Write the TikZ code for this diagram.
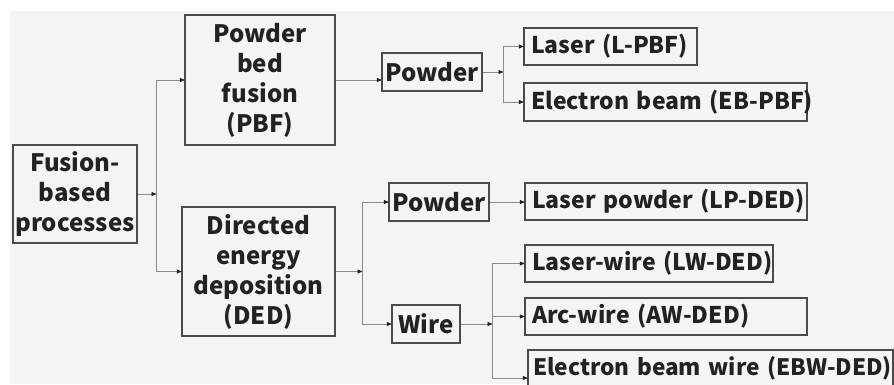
\documentclass[tikz,border=0pt]{standalone}
\usepackage{fontspec}
\setmainfont{Noto Sans CJK SC}
\usetikzlibrary{arrows.meta}
\definecolor{bg}{HTML}{F4F4F4}
\definecolor{boxline}{HTML}{4A4A4A}
\definecolor{connline}{HTML}{8A8A8A}
\definecolor{txt}{HTML}{222222}
\begin{document}
\begin{tikzpicture}[x=1pt,y=-1pt,
  box/.style={draw=boxline, line width=1.3pt, fill=bg, text=txt,
    font=\fontsize{24}{30}\selectfont\bfseries, inner sep=0pt},
  mbox/.style={box, align=center},
  cbox/.style={box, align=center, minimum height=38pt},
  lbox/.style={box, align=left, inner xsep=7pt, minimum height=37pt,
    font=\fontsize{23}{30}\selectfont\bfseries},
  conn/.style={draw=connline, line width=0.9pt,
    -{Triangle[length=5pt,width=4pt,color=txt]}, shorten >=-0.5pt}
]
\useasboundingbox (0,0) rectangle (894,384);
\fill[bg] (10,11) rectangle (894,384);

% nodes
\node[mbox, minimum width=124pt, minimum height=98pt] (fusion) at (75,194) {Fusion-\\based\\processes};
\node[mbox, minimum width=150pt, minimum height=130pt] (pbf) at (260,80) {Powder\\bed\\fusion\\(PBF)};
\node[mbox, minimum width=153pt, minimum height=129pt] (ded) at (258.5,271.5) {Directed\\energy\\deposition\\(DED)};

\node[cbox, minimum width=100pt] (pow1) at (432,72) {Powder};
\node[cbox, minimum width=100pt] (pow2) at (439,202) {Powder};
\node[cbox, minimum width=68pt] (wire) at (426,324) {Wire};

\node[lbox, text width=159pt] (laser) at (610.5,46.5) {\mbox{Laser (L-PBF)}};
\node[lbox, text width=269pt, minimum height=38pt] (ebpbf) at (665.5,102) {\mbox{Electron beam (EB-PBF)}};
\node[lbox, text width=268pt] (lp) at (666,201.5) {\mbox{Laser powder (LP-DED)}};
\node[lbox, text width=234pt] (lw) at (649,263.5) {\mbox{Laser-wire (LW-DED)}};
\node[lbox, text width=268pt] (aw) at (666,316.5) {\mbox{Arc-wire (AW-DED)}};
\node[lbox, inner xsep=5pt, text width=355pt, font=\fontsize{22.6}{30}\selectfont\bfseries] (ebw) at (710.5,368.5) {\mbox{Electron beam wire (EBW-DED)}};

% junctions
\coordinate (j1) at (156,194);
\coordinate (j2) at (503,72);
\coordinate (j3) at (362,271.5);
\coordinate (j4) at (492,324);

% connectors
\draw[conn] (fusion.east) -- (j1);
\draw[conn] (j1) |- (pbf.west);
\draw[conn] (j1) |- (ded.west);
\draw[conn] (pbf.east) -- (pbf.east -| pow1.west);
\draw[conn] (pow1.east) -- (j2);
\draw[conn] (j2) |- (laser.west);
\draw[conn] (j2) |- (ebpbf.west);
\draw[conn] (ded.east) -- (j3);
\draw[conn] (j3) |- (pow2.west);
\draw[conn] (j3) |- (wire.west);
\draw[conn] (pow2.east) -- (pow2.east -| lp.west);
\draw[conn] (wire.east) -- (j4);
\draw[conn] (j4) |- (lw.west);
\draw[conn] (j4) |- (aw.west);
\draw[conn] (j4) |- ([yshift=-9.5pt]ebw.west);
\end{tikzpicture}
\end{document}
